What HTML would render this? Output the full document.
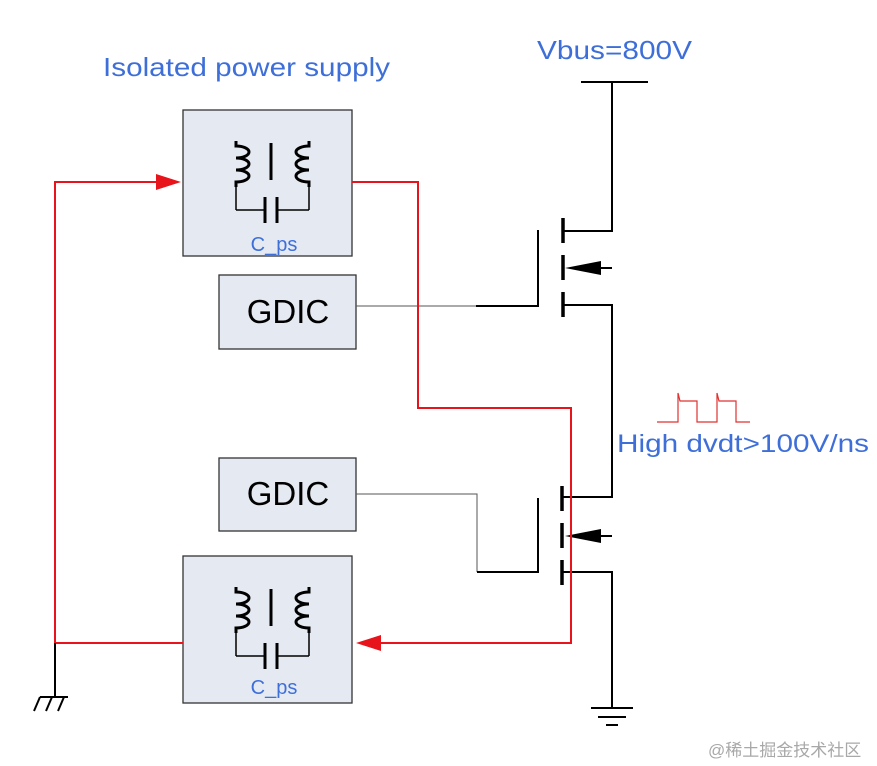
<!DOCTYPE html>
<html><head><meta charset="utf-8"><style>
html,body{margin:0;padding:0;background:#fff;width:877px;height:766px;overflow:hidden}
svg{display:block}
text{font-family:"Liberation Sans",Arial,sans-serif}
</style></head><body>
<svg width="877" height="766" viewBox="0 0 877 766" xmlns="http://www.w3.org/2000/svg">
<defs>
<g id="xf">
  <path d="M236,141 V146 a13,6 0 1 1 0,12 a13,6 0 1 1 0,12 a13,6 0 1 1 0,12 V187" fill="none" stroke="#000" stroke-width="3"/>
  <line x1="236" y1="186" x2="236" y2="210" stroke="#000" stroke-width="1.5"/>
  <line x1="271" y1="143" x2="271" y2="180" stroke="#000" stroke-width="3"/>
  <path d="M309,141 V146 a13,6 0 1 0 0,12 a13,6 0 1 0 0,12 a13,6 0 1 0 0,12 V187" fill="none" stroke="#000" stroke-width="3"/>
  <line x1="309" y1="186" x2="309" y2="210" stroke="#000" stroke-width="1.5"/>
  <line x1="236" y1="210" x2="265" y2="210" stroke="#000" stroke-width="1.5"/>
  <line x1="277" y1="210" x2="309" y2="210" stroke="#000" stroke-width="1.5"/>
  <line x1="265" y1="197" x2="265" y2="223" stroke="#000" stroke-width="3"/>
  <line x1="277" y1="197" x2="277" y2="223" stroke="#000" stroke-width="3"/>
</g>
</defs>

<text x="103" y="76" font-size="26" fill="#3e6fd9" textLength="287" lengthAdjust="spacingAndGlyphs">Isolated power supply</text>
<text x="537" y="59" font-size="26" fill="#3e6fd9" textLength="155" lengthAdjust="spacingAndGlyphs">Vbus=800V</text>
<text x="617" y="452" font-size="25" fill="#3e6fd9" textLength="252" lengthAdjust="spacingAndGlyphs">High dvdt&gt;100V/ns</text>

<rect x="183" y="110" width="169" height="146" fill="#e5eaf2" stroke="#333" stroke-width="1.3"/>
<use href="#xf"/>
<text x="274" y="251" font-size="20" fill="#3e6fd9" text-anchor="middle">C_ps</text>

<rect x="183" y="556" width="169" height="147" fill="#e5eaf2" stroke="#333" stroke-width="1.3"/>
<use href="#xf" transform="translate(0,446)"/>
<text x="274" y="694" font-size="20" fill="#3e6fd9" text-anchor="middle">C_ps</text>

<rect x="219" y="275" width="137" height="74" fill="#e5eaf2" stroke="#333" stroke-width="1.3"/>
<text x="288" y="323" font-size="33" fill="#000" text-anchor="middle">GDIC</text>
<rect x="219" y="458" width="137" height="73" fill="#e5eaf2" stroke="#333" stroke-width="1.3"/>
<text x="288" y="505" font-size="33" fill="#000" text-anchor="middle">GDIC</text>

<line x1="581" y1="82" x2="648" y2="82" stroke="#000" stroke-width="2"/>
<polyline points="612,82 612,231 563,231" fill="none" stroke="#000" stroke-width="2"/>
<line x1="356" y1="306" x2="476" y2="306" stroke="#555" stroke-width="1"/>
<polyline points="476,306 538,306 538,230" fill="none" stroke="#000" stroke-width="2"/>
<line x1="563" y1="218" x2="563" y2="243" stroke="#000" stroke-width="3.5"/>
<line x1="563" y1="255" x2="563" y2="280" stroke="#000" stroke-width="3.5"/>
<line x1="563" y1="292" x2="563" y2="317" stroke="#000" stroke-width="3.5"/>
<line x1="590" y1="268" x2="612" y2="268" stroke="#000" stroke-width="2"/>
<polygon points="565,268 601,261 601,275" fill="#000"/>
<polyline points="563,305 612,305 612,497 563,497" fill="none" stroke="#000" stroke-width="2"/>

<polyline points="356,494 477,494 477,572" fill="none" stroke="#555" stroke-width="1"/>
<polyline points="477,572 538,572 538,498" fill="none" stroke="#000" stroke-width="2"/>
<line x1="562" y1="486" x2="562" y2="511" stroke="#000" stroke-width="3.5"/>
<line x1="562" y1="523" x2="562" y2="548" stroke="#000" stroke-width="3.5"/>
<line x1="562" y1="560" x2="562" y2="585" stroke="#000" stroke-width="3.5"/>
<line x1="590" y1="536" x2="612" y2="536" stroke="#000" stroke-width="2"/>
<polygon points="565,536 601,529 601,543" fill="#000"/>
<polyline points="563,572 612,572 612,708" fill="none" stroke="#000" stroke-width="2"/>
<line x1="591" y1="708" x2="633" y2="708" stroke="#000" stroke-width="2"/>
<line x1="598" y1="717" x2="626" y2="717" stroke="#000" stroke-width="2"/>
<line x1="606" y1="725" x2="618" y2="725" stroke="#000" stroke-width="2"/>

<polyline points="352,182 418,182 418,408 571,408 571,643 380,643" fill="none" stroke="#e8141b" stroke-width="2"/>
<polygon points="356,643 381,635 381,651" fill="#e8141b"/>
<polyline points="183,643 55,643 55,182 158,182" fill="none" stroke="#e8141b" stroke-width="2"/>
<polygon points="181,182 156,174 156,190" fill="#e8141b"/>
<line x1="55" y1="643" x2="55" y2="697" stroke="#000" stroke-width="2"/>
<line x1="40" y1="697" x2="68" y2="697" stroke="#000" stroke-width="2"/>
<line x1="40" y1="697" x2="34" y2="711" stroke="#000" stroke-width="2"/>
<line x1="52" y1="697" x2="46" y2="711" stroke="#000" stroke-width="2"/>
<line x1="64" y1="697" x2="58" y2="711" stroke="#000" stroke-width="2"/>

<polyline points="657,422 678,422 678,393 680,401 697,401 697,422 717,422 717,393 719,401 736,401 736,422 750,422" fill="none" stroke="#e03030" stroke-width="1.2"/>

<text x="708" y="756" font-size="17" fill="#a8a8a8" font-family="'Liberation Sans','Noto Sans CJK SC',sans-serif">@稀土掘金技术社区</text>
</svg>
</body></html>
